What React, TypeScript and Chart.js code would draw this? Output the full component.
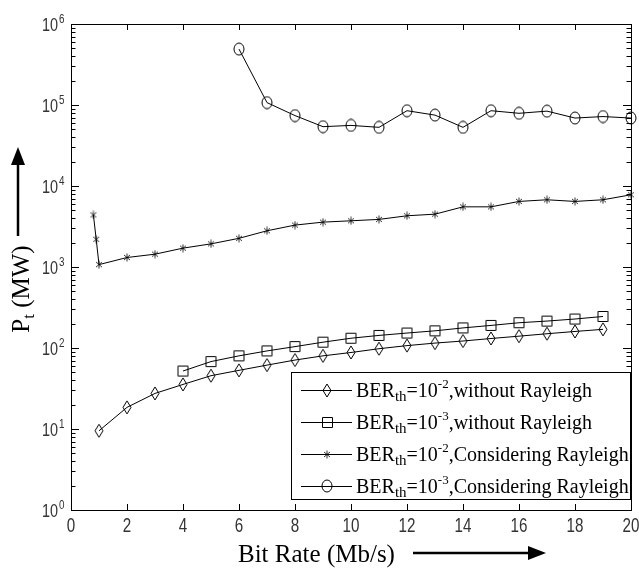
import React, { useEffect, useRef } from "react";
import { Chart, registerables } from "chart.js";

Chart.register(...registerables);

// ---------- data ----------
const xTickValues = [0, 2, 4, 6, 8, 10, 12, 14, 16, 18, 20];
const yTickExponents = [0, 1, 2, 3, 4, 5, 6];

const bitRateDiamond = [1, 2, 3, 4, 5, 6, 7, 8, 9, 10, 11, 12, 13, 14, 15, 16, 17, 18, 19];
const powerDiamond = [9.5, 18.5, 27.5, 35.5, 45.5, 53, 61.5, 71, 80, 88, 98, 107, 115, 122, 131, 140, 150, 160, 170];

const bitRateSquare = [4, 5, 6, 7, 8, 9, 10, 11, 12, 13, 14, 15, 16, 17, 18, 19];
const powerSquare = [52, 68, 80, 92, 104, 118, 132, 143, 153, 163, 177, 190, 205, 215, 228, 245];

const bitRateCross = [0.8, 0.9, 1, 2, 3, 4, 5, 6, 7, 8, 9, 10, 11, 12, 13, 14, 15, 16, 17, 18, 19, 20];
const powerCross = [4400, 2200, 1070, 1310, 1440, 1710, 1930, 2260, 2800, 3290, 3580, 3720, 3870, 4290, 4490, 5530, 5530, 6450, 6760, 6450, 6760, 7790];

const bitRateCircle = [6, 7, 8, 9, 10, 11, 12, 13, 14, 15, 16, 17, 18, 19, 20];
const powerCircle = [490000, 107000, 74000, 54000, 56000, 53000, 85000, 75000, 53000, 85000, 79000, 84000, 69000, 72000, 69000];

const legendExponents = ["-2", "-3", "-2", "-3"];
const legendSuffixes = [",without Rayleigh", ",without Rayleigh", ",Considering Rayleigh", ",Considering Rayleigh"];
const markerKinds = ["diamond", "square", "star", "circle"];

const xTitle = "Bit Rate (Mb/s)";
const yTitleMain = "P";
const yTitleSub = "t";
const yTitleRest = " (MW)";

// ---------- helpers ----------
function makeMarker(kind: string): HTMLCanvasElement {
  const c = document.createElement("canvas");
  let w = 12, h = 14;
  if (kind === "diamond") { w = 10; h = 15; }
  if (kind === "square") { w = 13; h = 13; }
  if (kind === "star") { w = 8; h = 9; }
  c.width = w;
  c.height = h;
  const ctx = c.getContext("2d")!;
  ctx.strokeStyle = "#000";
  ctx.lineWidth = kind === "star" ? 0.8 : 1;
  ctx.beginPath();
  if (kind === "circle") {
    ctx.ellipse(w / 2, h / 2, w / 2 - 1, h / 2 - 1, 0, 0, Math.PI * 2);
  } else if (kind === "diamond") {
    ctx.moveTo(w / 2, 1);
    ctx.lineTo(w - 1, h / 2);
    ctx.lineTo(w / 2, h - 1);
    ctx.lineTo(1, h / 2);
    ctx.closePath();
  } else if (kind === "square") {
    ctx.rect(1.5, 1.5, w - 3, h - 3);
  } else {
    ctx.moveTo(1, 2);
    ctx.lineTo(w - 1, h - 2);
    ctx.moveTo(w - 1, 2);
    ctx.lineTo(1, h - 2);
    ctx.moveTo(w / 2, 0.5);
    ctx.lineTo(w / 2, h - 0.5);
  }
  ctx.stroke();
  return c;
}

const LABEL_FONT = '"Liberation Sans", Arial, sans-serif';
const SERIF = '"Liberation Serif", "Times New Roman", serif';

function condensedText(ctx: CanvasRenderingContext2D, text: string, x: number, y: number, size: number, align: CanvasTextAlign) {
  ctx.save();
  ctx.translate(x, y);
  ctx.scale(0.76, 1);
  ctx.font = `${size}px ${LABEL_FONT}`;
  ctx.textAlign = align;
  ctx.textBaseline = "alphabetic";
  ctx.fillText(text, 0, 0);
  ctx.restore();
}

export default function App() {
  const ref = useRef<HTMLCanvasElement | null>(null);

  useEffect(() => {
    const canvas = ref.current;
    if (!canvas) return;
    const markers = markerKinds.map(makeMarker);

    const decorPlugin = {
      id: "decor",
      afterDraw(chart: any) {
        const ctx: CanvasRenderingContext2D = chart.ctx;
        const { left, right, top, bottom } = chart.chartArea;
        const xs = chart.scales.x;
        const ys = chart.scales.y;
        ctx.save();
        ctx.strokeStyle = "#000";
        ctx.fillStyle = "#000";
        ctx.lineWidth = 1;

        // ticks
        ctx.beginPath();
        xTickValues.forEach((v) => {
          const px = Math.round(xs.getPixelForValue(v)) + 0.5;
          ctx.moveTo(px, bottom);
          ctx.lineTo(px, bottom - 6);
          ctx.moveTo(px, top);
          ctx.lineTo(px, top + 6);
        });
        yTickExponents.forEach((e, i) => {
          const py = Math.round(ys.getPixelForValue(Math.pow(10, e))) + 0.5;
          ctx.moveTo(left, py);
          ctx.lineTo(left + 8, py);
          ctx.moveTo(right, py);
          ctx.lineTo(right - 8, py);
          if (i < yTickExponents.length - 1) {
            for (let m = 2; m <= 9; m++) {
              const pm = Math.round(ys.getPixelForValue(m * Math.pow(10, e))) + 0.5;
              ctx.moveTo(left, pm);
              ctx.lineTo(left + 4.5, pm);
              ctx.moveTo(right, pm);
              ctx.lineTo(right - 4.5, pm);
            }
          }
        });
        ctx.stroke();

        // frame
        ctx.strokeRect(left + 0.5, top + 0.5, right - left, bottom - top);

        // tick labels
        ctx.fillStyle = "#333";
        xTickValues.forEach((v) => {
          const px = xs.getPixelForValue(v);
          condensedText(ctx, String(v), px, 532, 20, "center");
        });
        yTickExponents.forEach((e) => {
          const py = ys.getPixelForValue(Math.pow(10, e));
          condensedText(ctx, "10", 58, py + 7, 19, "right");
          condensedText(ctx, String(e), 59, py - 1.5, 13, "left");
        });

        // axis titles
        ctx.fillStyle = "#000";
        ctx.font = `25px ${SERIF}`;
        ctx.textAlign = "left";
        ctx.textBaseline = "alphabetic";
        ctx.fillText(xTitle, 238, 562);

        // x arrow
        ctx.lineWidth = 2.5;
        ctx.beginPath();
        ctx.moveTo(413, 553);
        ctx.lineTo(532, 553);
        ctx.stroke();
        ctx.beginPath();
        ctx.moveTo(546, 553);
        ctx.lineTo(528, 546);
        ctx.lineTo(528, 560);
        ctx.closePath();
        ctx.fill();

        // y title (rotated)
        ctx.save();
        ctx.translate(29, 289);
        ctx.rotate(-Math.PI / 2);
        ctx.font = `25px ${SERIF}`;
        const wP = ctx.measureText(yTitleMain).width;
        const wR = ctx.measureText(yTitleRest).width;
        ctx.font = `17px ${SERIF}`;
        const wT = ctx.measureText(yTitleSub).width;
        const total = wP + wT + wR;
        let cx = -total / 2;
        ctx.font = `25px ${SERIF}`;
        ctx.fillText(yTitleMain, cx, 0);
        cx += wP;
        ctx.font = `17px ${SERIF}`;
        ctx.fillText(yTitleSub, cx, 5);
        cx += wT;
        ctx.font = `25px ${SERIF}`;
        ctx.fillText(yTitleRest, cx, 0);
        ctx.restore();

        // y arrow
        ctx.beginPath();
        ctx.moveTo(18, 236);
        ctx.lineTo(18, 162);
        ctx.stroke();
        ctx.beginPath();
        ctx.moveTo(18, 147);
        ctx.lineTo(11, 165);
        ctx.lineTo(25, 165);
        ctx.closePath();
        ctx.fill();

        // legend
        const lx = 291, ly = 372, lw = 339, lh = 127;
        ctx.fillStyle = "#fff";
        ctx.fillRect(lx, ly, lw, lh);
        ctx.lineWidth = 1;
        ctx.strokeStyle = "#000";
        ctx.strokeRect(lx + 0.5, ly + 0.5, lw, lh);
        chart.data.datasets.forEach((ds: any, i: number) => {
          const rowY = 390 + i * 32;
          ctx.beginPath();
          ctx.moveTo(301, rowY + 0.5);
          ctx.lineTo(352, rowY + 0.5);
          ctx.stroke();
          const mk = markers[i];
          ctx.drawImage(mk, Math.round(327 - mk.width / 2), Math.round(rowY - mk.height / 2));
          ctx.fillStyle = "#000";
          let tx = 356;
          const base = rowY + 7;
          ctx.font = `20px ${SERIF}`;
          ctx.fillText("BER", tx, base);
          tx += ctx.measureText("BER").width;
          ctx.font = `15px ${SERIF}`;
          ctx.fillText("th", tx, base + 4);
          tx += ctx.measureText("th").width;
          ctx.font = `20px ${SERIF}`;
          ctx.fillText("=10", tx, base);
          tx += ctx.measureText("=10").width;
          ctx.font = `13px ${SERIF}`;
          ctx.fillText(legendExponents[i], tx, base - 9);
          tx += ctx.measureText(legendExponents[i]).width;
          ctx.font = `20px ${SERIF}`;
          ctx.fillText(legendSuffixes[i], tx, base);
        });
        ctx.restore();
      },
    };

    const mk = (xsArr: number[], ysArr: number[], i: number) => ({
      label: legendSuffixes[i],
      data: xsArr.map((x, j) => ({ x, y: ysArr[j] })),
      borderColor: "#000",
      backgroundColor: "transparent",
      borderWidth: 1,
      pointStyle: markers[i],
      pointRadius: 6,
      pointBorderColor: "#000",
      fill: false,
      tension: 0,
      clip: false,
    });

    const chart = new Chart(canvas, {
      type: "line",
      data: {
        datasets: [
          mk(bitRateDiamond, powerDiamond, 0),
          mk(bitRateSquare, powerSquare, 1),
          mk(bitRateCross, powerCross, 2),
          mk(bitRateCircle, powerCircle, 3),
        ] as any,
      },
      options: {
        responsive: false,
        animation: false,
        devicePixelRatio: 1,
        events: [],
        layout: { padding: { left: 71, top: 24, right: 8, bottom: 58 } },
        scales: {
          x: { type: "linear", min: 0, max: 20, display: false },
          y: { type: "logarithmic", min: 1, max: 1e6, display: false },
        },
        plugins: { legend: { display: false }, tooltip: { enabled: false } },
      } as any,
      plugins: [decorPlugin],
    });
    return () => chart.destroy();
  }, []);

  return (
    <div style={{ position: "absolute", left: 0, top: 0, width: 639, height: 568, background: "#fff" }}>
      <canvas ref={ref} width={639} height={568} style={{ display: "block" }} />
    </div>
  );
}
